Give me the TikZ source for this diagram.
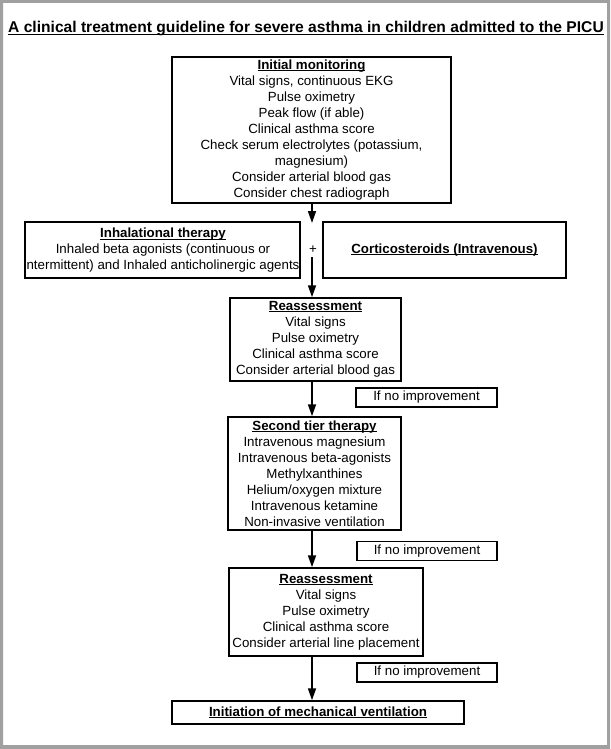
\documentclass[tikz,border=0pt]{standalone}
\usepackage{fontspec}
\setmainfont{Liberation Sans}
\usetikzlibrary{arrows.meta}
\definecolor{framegray}{RGB}{160,160,160}
\newcommand\ulhead[1]{\setbox0\hbox{\bfseries #1}\rlap{\rule[-1.7pt]{\wd0}{0.9pt}}\box0}
\tikzset{
  box/.style={draw, line width=1.5pt, rectangle, inner sep=0pt, align=center,
    font=\fontsize{13.3}{16}\selectfont},
  plain/.style={inner sep=0pt, align=center, font=\fontsize{13.3}{16}\selectfont},
  flow/.style={line width=1.7pt, -{Triangle[length=12pt,width=8pt]}}
}
\begin{document}
\begin{tikzpicture}[x=1pt,y=-1pt]
\useasboundingbox (0,0) rectangle (610,749);
\fill[framegray, even odd rule] (0,0) rectangle (610,749) (3,3) rectangle (607,745);
\node[plain, anchor=base, font=\fontsize{15.6}{16}\selectfont\bfseries] (title) at (306,33)
  {\setbox0\hbox{A clinical treatment guideline for severe asthma in children admitted to the PICU}\rlap{\rule[-2pt]{\wd0}{1.2pt}}\box0};
\node[box, minimum width=279pt, minimum height=146pt] (b1) at (311.5,130)
  {\ulhead{Initial monitoring}\\
   Vital signs, continuous EKG\\
   Pulse oximetry\\
   Peak flow (if able)\\
   Clinical asthma score\\
   Check serum electrolytes (potassium,\\
   magnesium)\\
   Consider arterial blood gas\\
   Consider chest radiograph};
\node[box, minimum width=275pt, minimum height=56pt] (inh) at (162.5,250) {};
\node[plain] (inhtxt) at (163,250.5)
  {\ulhead{Inhalational therapy}\\
   Inhaled beta agonists (continuous or\\
   ntermittent) and Inhaled anticholinergic agents};
\node[box, minimum width=243pt, minimum height=56pt] (cort) at (444.5,250)
  {\ulhead{Corticosteroids (Intravenous)}};
\node[plain] (plus) at (313,250) {+};
\node[box, minimum width=171pt, minimum height=83pt] (r1) at (315.5,339.5)
  {\ulhead{Reassessment}\\
   Vital signs\\
   Pulse oximetry\\
   Clinical asthma score\\
   Consider arterial blood gas};
\node[box, minimum width=141pt, minimum height=19pt] (n1) at (426.5,397.5) {If no improvement};
\node[box, minimum width=173pt, minimum height=113pt] (st) at (314.5,473.5)
  {\ulhead{Second tier therapy}\\
   Intravenous magnesium\\
   Intravenous beta-agonists\\
   Methylxanthines\\
   Helium/oxygen mixture\\
   Intravenous ketamine\\
   Non-invasive ventilation};
\node[box, minimum width=140pt, minimum height=19pt] (n2) at (427,551) {If no improvement};
\node[box, minimum width=194pt, minimum height=88pt] (r2) at (326,612)
  {\ulhead{Reassessment}\\
   Vital signs\\
   Pulse oximetry\\
   Clinical asthma score\\
   Consider arterial line placement};
\node[box, minimum width=140pt, minimum height=19pt] (n3) at (427,672.5) {If no improvement};
\node[box, minimum width=292pt, minimum height=23pt] (init) at (318,712.5)
  {\ulhead{Initiation of mechanical ventilation}};
\coordinate (ax) at (312,0);
\coordinate (tip1) at (312,223);
\coordinate (start2) at (312,257);
\draw[flow] (ax |- b1.south) -- (tip1);
\draw[flow] (start2) -- (ax |- r1.north);
\draw[flow] (ax |- r1.south) -- (ax |- st.north);
\draw[flow] (ax |- st.south) -- (ax |- r2.north);
\draw[flow] (ax |- r2.south) -- (ax |- init.north);
\end{tikzpicture}
\end{document}
